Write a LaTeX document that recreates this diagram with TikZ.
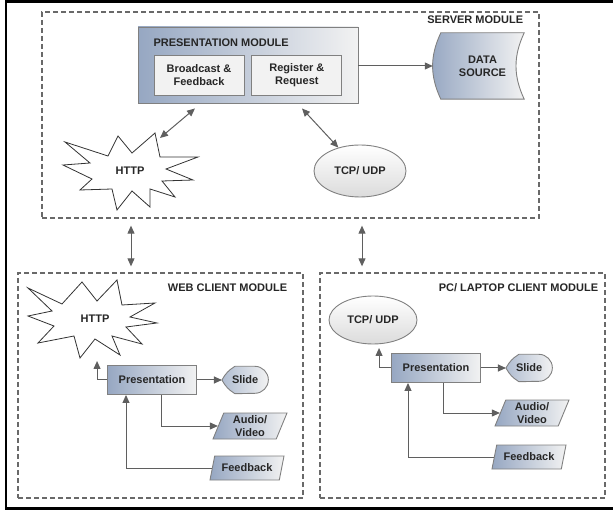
\documentclass[tikz,border=0pt]{standalone}
\usepackage{fontspec}
\setmainfont{Liberation Sans}
\usepackage{tikz}
\usetikzlibrary{shapes.geometric,arrows.meta,positioning,backgrounds}

\definecolor{blueshade}{RGB}{150,167,194}
\definecolor{lightshade}{RGB}{242,242,242}
\definecolor{lineshade}{RGB}{128,128,128}
\definecolor{arrowshade}{RGB}{95,95,95}
\definecolor{dashshade}{RGB}{105,105,105}

\begin{document}
\begin{tikzpicture}[x=1pt,y=-1pt,>={Triangle[length=8pt,width=7pt]},
                    font=\fontsize{11}{13}\selectfont\bfseries,
                    every node/.style={text=black!85,align=center},
                    modulee/.style={rectangle,draw=dashshade,line width=1.3pt,dash pattern=on 5pt off 3pt},
                    presmodd/.style={rectangle,draw=lineshade,line width=0.9pt,left color=blueshade,right color=lightshade,minimum width=220pt,minimum height=76pt},
                    innerr/.style={rectangle,draw=lineshade,line width=0.9pt,fill=lightshade,minimum width=90pt,minimum height=40pt,inner sep=1pt},
                    presboxx/.style={rectangle,draw=lineshade,line width=0.9pt,left color=blueshade,right color=lightshade,minimum width=89pt,minimum height=29pt},
                    ovall/.style={ellipse,draw=lineshade,line width=0.9pt,top color=white,bottom color=black!14,minimum width=90pt,minimum height=50pt},
                    burstt/.style={rectangle,inner sep=2pt},
                    burstline/.style={draw=black!80,line width=0.8pt,fill=white,line join=miter},
                    parall/.style={trapezium,trapezium left angle=65,trapezium right angle=115,trapezium stretches body,draw=lineshade,line width=0.9pt,left color=blueshade,right color=lightshade,minimum width=74pt,minimum height=26pt,inner sep=1pt},
                    slidee/.style={rectangle,minimum width=46pt,minimum height=27pt,inner sep=0pt},
                    sourcee/.style={rectangle,minimum width=83pt,minimum height=66pt,inner sep=0pt},
                    shapeline/.style={draw=lineshade,line width=0.9pt,left color=blueshade!75!white,right color=lightshade},
                    linkk/.style={draw=arrowshade,line width=1pt,->},
                    bothh/.style={draw=arrowshade,line width=1pt,<->}]
  \useasboundingbox (0,0) rectangle (613,510);
  \draw[line width=2.5pt] (6,1.5) rectangle (620,508.5);

  \node (server) [modulee,minimum width=497pt,minimum height=206pt] at (290.5,115) {};
  \node (web) [modulee,minimum width=285pt,minimum height=225pt] at (160.5,385.5) {};
  \node (pc) [modulee,minimum width=285pt,minimum height=225pt] at (462.5,385.5) {};
  \node (serverLabel) [anchor=east] at ([xshift=-13pt,yshift=-8pt]server.north east) {SERVER MODULE};
  \node (webLabel) [anchor=east] at ([xshift=-13pt,yshift=-15pt]web.north east) {WEB CLIENT MODULE};
  \node (pcLabel) [anchor=east] at ([xshift=-4pt,yshift=-15pt]pc.north east) {PC/ LAPTOP CLIENT MODULE};

  \node (presmod) [presmodd] at (248,65) {};
  \node (presLabel) [anchor=west] at (150,43) {PRESENTATION MODULE};
  \node (broadcast) [innerr] at (199,75) {Broadcast \&\\Feedback};
  \node (register) [innerr,right=7pt of broadcast] {Register \&\\Request};
  \node (source) [sourcee] at (482.5,66) {DATA\\SOURCE};
  \node (httpS) [burstt] at (130,171) {HTTP};
  \node (tcpS) [ovall,minimum width=92pt,minimum height=52pt] at (360,171) {TCP/ UDP};

  \node (httpW) [burstt] at (95,319) {HTTP};
  \node (presW) [presboxx] at (152,380) {Presentation};
  \node (slideW) [slidee,right=25pt of presW] {Slide};
  \node (avW) [parall] at (250,426) {Audio/\\Video};
  \node (fbW) [parall,minimum height=24pt] at (247,468) {Feedback};

  \node (tcpP) [ovall,minimum width=88pt,minimum height=48pt] at (373,320) {TCP/ UDP};
  \node (presP) [presboxx] at (436,368) {Presentation};
  \node (slideP) [slidee,right=25pt of presP] {Slide};
  \node (avP) [parall] at (532,413) {Audio/\\Video};
  \node (fbP) [parall,minimum height=24pt] at (529,457) {Feedback};

  \begin{pgfonlayer}{background}
    \draw[shapeline,left color=blueshade] (source.north west) to[bend right=25] (source.south west)
      -- (source.south east) to[bend left=25] (source.north east) -- cycle;
    \foreach \s in {slideW,slideP}
      \draw[shapeline] (\s.west) to[bend left=15] ([xshift=13pt]\s.north west)
        -- ([xshift=-13.5pt]\s.north east) arc[start angle=90,end angle=-90,radius=13.5pt]
        -- ([xshift=13pt]\s.south west) to[bend left=15] (\s.west);
    \draw[burstline,shift={(httpS.center)}] (-65,-29) -- (-22,-15) -- (-12,-35) -- (2,-18)
      -- (25,-38) -- (30,-14) -- (68,-14) -- (36,-2) -- (63,9) -- (32,10) -- (45,26)
      -- (20,18) -- (20,36) -- (2,20) -- (-13,39) -- (-18,18) -- (-50,19) -- (-38,8)
      -- (-67,-6) -- (-40,-8) -- cycle;
    \draw[burstline,shift={(httpW.center)}] (-67,-31) -- (-33,-15) -- (-13,-37) -- (2,-18)
      -- (22,-39) -- (27,-14) -- (60,-16) -- (35,-2) -- (62,4) -- (31,8) -- (47,25)
      -- (17,17) -- (25,36) -- (0,20) -- (-15,39) -- (-21,17) -- (-57,24) -- (-41,7)
      -- (-67,-3) -- (-43,-8) -- cycle;
  \end{pgfonlayer}

  \coordinate (linkW) at (131,0);
  \coordinate (linkP) at (362,0);
  \path
    (server.south -| linkW) edge[bothh,shorten <=7pt,shorten >=6pt] (web.north -| linkW)
    (server.south -| linkP) edge[bothh,shorten <=7pt,shorten >=6pt] (pc.north -| linkP)
    ([xshift=-53pt,yshift=-5pt]presmod.south) edge[bothh] ([xshift=30pt,yshift=33pt]httpS.center)
    ([xshift=54pt,yshift=-5pt]presmod.south) edge[bothh] (tcpS)
    (presmod.east |- source) edge[linkk,shorten >=8pt] (source)
    (presW) edge[linkk] (slideW)
    (presP) edge[linkk] (slideP);

  \draw[linkk] (presW.west) -- ++(-10,0) -- ++(0,-19);
  \draw[linkk] ([xshift=9pt]presW.south) |- (avW.west);
  \draw[linkk] (fbW.west) -| ([xshift=-26pt]presW.south);

  \draw[linkk] (presP.west) -- ++(-12,0) -- ++(0,-20);
  \draw[linkk] ([xshift=7pt]presP.south) |- (avP.west);
  \draw[linkk] (fbP.west) -| ([xshift=-28pt]presP.south);
\end{tikzpicture}
\end{document}
